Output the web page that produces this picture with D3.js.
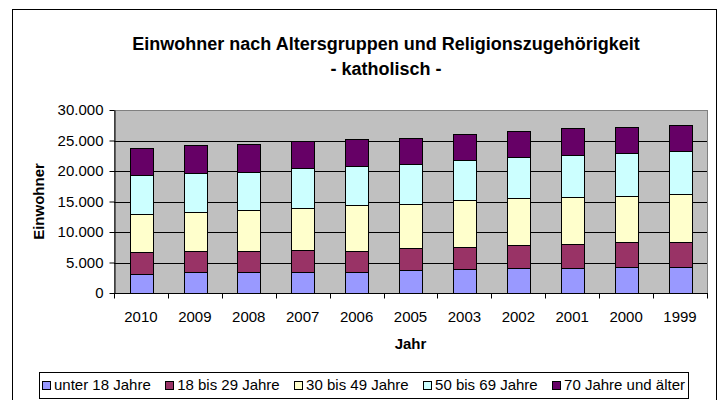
<!DOCTYPE html>
<html>
<head>
<meta charset="utf-8">
<script src="https://cdn.jsdelivr.net/npm/d3@7"></script>
<style>
  body { margin: 0; background: #fff; }
  svg { display: block; font-family: "Liberation Sans", Arial, sans-serif; }
</style>
</head>
<body>
<svg id="chart" width="718" height="400"></svg>
<script>
// categories and series
const years = ["2010", "2009", "2008", "2007", "2006", "2005", "2003", "2002", "2001", "2000", "1999"];
const seriesNames = ["unter 18 Jahre", "18 bis 29 Jahre", "30 bis 49 Jahre", "50 bis 69 Jahre", "70 Jahre und älter"];
const seriesColors = ["#9999FF", "#993366", "#FFFFCC", "#CCFFFF", "#660066"];
const unter18 = [3170, 3390, 3390, 3500, 3500, 3770, 3930, 4150, 4150, 4320, 4320];
const von18bis29 = [3500, 3500, 3500, 3550, 3330, 3610, 3610, 3720, 3930, 3990, 3990];
const von30bis49 = [6340, 6340, 6720, 6940, 7540, 7270, 7700, 7700, 7650, 7650, 7870];
const von50bis69 = [6290, 6450, 6230, 6450, 6500, 6450, 6560, 6780, 6890, 7050, 7050];
const ab70 = [4540, 4590, 4640, 4430, 4370, 4370, 4260, 4260, 4370, 4260, 4260];
const yTicks = [0, 5000, 10000, 15000, 20000, 25000, 30000];

const seriesValues = [unter18, von18bis29, von30bis49, von50bis69, ab70];

// build a table for d3.stack
const table = years.map((year, i) => {
    const row = { year };
    seriesNames.forEach((name, s) => { row[name] = seriesValues[s][i]; });
    return row;
});

const svg = d3.select("#chart");
const plot = { left: 114, right: 707, top: 110, bottom: 293 };

const de = d3.formatLocale({ decimal: ",", thousands: ".", grouping: [3], currency: ["", " €"] });
const fmt = de.format(",d");

const x = d3.scaleBand().domain(years).range([plot.left, plot.right]);
const y = d3.scaleLinear().domain([0, 30000]).range([plot.bottom, plot.top]);
const barWidth = x.bandwidth() * 0.42;

// outer chart border
svg.append("rect")
    .attr("x", 12.5).attr("y", 9.5)
    .attr("width", 704).attr("height", 400)
    .attr("fill", "#fff").attr("stroke", "#000");

// title
const title = svg.append("text")
    .attr("text-anchor", "middle")
    .attr("font-weight", "bold")
    .attr("font-size", 18);
title.append("tspan").attr("x", 386).attr("y", 50).text("Einwohner nach Altersgruppen und Religionszugehörigkeit");
title.append("tspan").attr("x", 386).attr("y", 75).text("- katholisch -");

// plot area
svg.append("rect")
    .attr("x", plot.left).attr("y", plot.top)
    .attr("width", plot.right - plot.left).attr("height", plot.bottom - plot.top)
    .attr("fill", "#C0C0C0").attr("stroke", "#808080")
    .attr("shape-rendering", "crispEdges");

// gridlines
svg.append("g")
    .selectAll("line")
    .data(yTicks.filter(d => d > 0 && d < 30000))
    .enter()
    .append("line")
    .attr("x1", plot.left).attr("x2", plot.right)
    .attr("y1", d => Math.round(y(d)) + 0.5).attr("y2", d => Math.round(y(d)) + 0.5)
    .attr("stroke", "#000");

// stacked bars
const stacked = d3.stack().keys(seriesNames)(table);

svg.append("g")
    .selectAll("g")
    .data(stacked)
    .enter()
    .append("g")
    .attr("fill", (d, i) => seriesColors[i])
    .selectAll("rect")
    .data(d => d)
    .enter()
    .append("rect")
    .attr("x", d => Math.round(x(d.data.year) + (x.bandwidth() - barWidth) / 2) + 0.5)
    .attr("y", d => Math.round(y(d[1])) + 0.5)
    .attr("width", Math.round(barWidth))
    .attr("height", d => Math.round(y(d[0])) - Math.round(y(d[1])))
    .attr("stroke", "#000")
    .attr("stroke-width", 1);

// y axis
const yAxis = svg.append("g")
    .attr("transform", `translate(${plot.left + 0.5},0)`)
    .call(d3.axisLeft(y).tickValues(yTicks).tickFormat(fmt).tickSize(5).tickSizeOuter(0).tickPadding(6));
yAxis.select(".domain").attr("stroke", "#000");
yAxis.selectAll("text").attr("font-size", 15).attr("fill", "#000").attr("font-family", null);

// x axis: ticks sit between categories
const xAxis = svg.append("g")
    .attr("transform", `translate(0,${plot.bottom + 0.5})`);
xAxis.append("line")
    .attr("x1", plot.left).attr("x2", plot.right + 1)
    .attr("stroke", "#000");
xAxis.selectAll("line.tick")
    .data(years.map(d => x(d)).concat([plot.right]))
    .enter()
    .append("line")
    .attr("class", "tick")
    .attr("x1", d => Math.round(d) + 0.5).attr("x2", d => Math.round(d) + 0.5)
    .attr("y1", 0).attr("y2", 5)
    .attr("stroke", "#000");
xAxis.selectAll("text")
    .data(years)
    .enter()
    .append("text")
    .attr("x", d => x(d) + x.bandwidth() / 2)
    .attr("y", 28)
    .attr("text-anchor", "middle")
    .attr("font-size", 15)
    .text(d => d);

// axis titles
svg.append("text")
    .attr("x", (plot.left + plot.right) / 2).attr("y", 349)
    .attr("text-anchor", "middle")
    .attr("font-weight", "bold").attr("font-size", 15)
    .text("Jahr");

svg.append("text")
    .attr("transform", `translate(44,${(plot.top + plot.bottom) / 2}) rotate(-90)`)
    .attr("text-anchor", "middle")
    .attr("font-weight", "bold").attr("font-size", 15)
    .text("Einwohner");

// legend
const legendBox = { x: 39, y: 372, w: 649, h: 26 };
svg.append("rect")
    .attr("x", legendBox.x + 0.5).attr("y", legendBox.y + 0.5)
    .attr("width", legendBox.w).attr("height", legendBox.h)
    .attr("fill", "#fff").attr("stroke", "#000");

const legend = svg.append("g");
const items = legend.selectAll("g")
    .data(seriesNames)
    .enter()
    .append("g");
items.append("rect")
    .attr("width", 8).attr("height", 8)
    .attr("y", legendBox.y + legendBox.h / 2 - 4 + 0.5)
    .attr("fill", (d, i) => seriesColors[i])
    .attr("stroke", "#000");
const labels = items.append("text")
    .attr("y", legendBox.y + legendBox.h / 2 + 5)
    .attr("font-size", 15)
    .text(d => d);

// spread items across the box
const widths = labels.nodes().map(n => n.getComputedTextLength() + 12);
const innerStart = legendBox.x + 3, innerEnd = legendBox.x + legendBox.w - 3;
const gap = (innerEnd - innerStart - d3.sum(widths)) / (seriesNames.length - 1);
let cursor = innerStart;
items.each(function (d, i) {
    const g = d3.select(this);
    g.select("rect").attr("x", Math.round(cursor) + 0.5);
    g.select("text").attr("x", cursor + 12);
    cursor += widths[i] + gap;
});
</script>
</body>
</html>
